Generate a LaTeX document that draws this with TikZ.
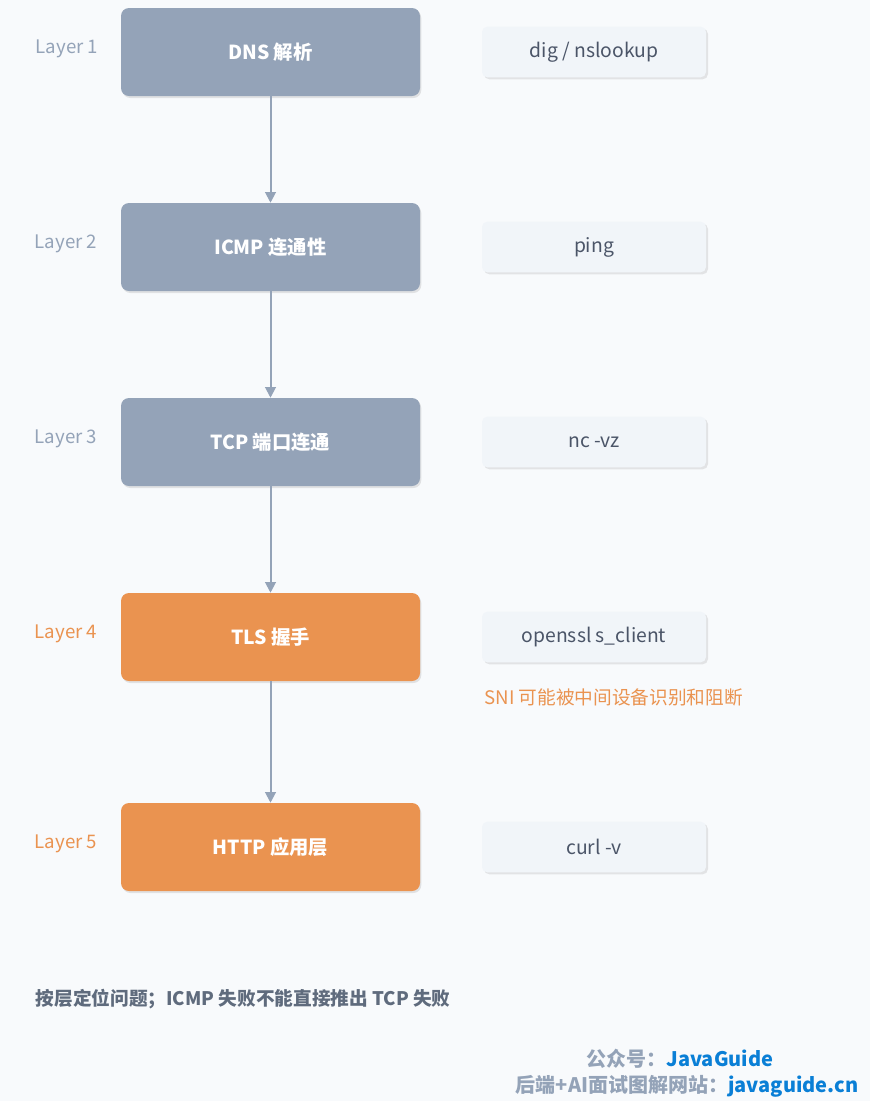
\documentclass[tikz,border=0pt]{standalone}
\usepackage{fontspec}
\setmainfont{Noto Sans CJK SC}
\usetikzlibrary{shadows,arrows.meta}
\definecolor{bg}{HTML}{F8FAFC}
\definecolor{gbox}{HTML}{94A3B8}
\definecolor{obox}{HTML}{EA9350}
\definecolor{tbox}{HTML}{F1F5F9}
\definecolor{ttext}{HTML}{4B5568}
\definecolor{btext}{HTML}{5F6B7D}
\definecolor{blu}{HTML}{0A7FD6}
\begin{document}
\begin{tikzpicture}[x=0.75pt,y=-0.75pt,
 main/.style={rounded corners=6pt,minimum width=224.25pt,minimum height=66pt,text=white,font=\fontsize{14.5}{16}\selectfont\bfseries,drop shadow={shadow xshift=1pt,shadow yshift=-1.5pt,opacity=0.2}},
 gray/.style={main,fill=gbox},
 orange/.style={main,fill=obox},
 tool/.style={rounded corners=4pt,fill=tbox,minimum width=168pt,minimum height=38pt,text=ttext,font=\fontsize{14.5}{16}\selectfont,drop shadow={shadow xshift=1.5pt,shadow yshift=-1.5pt,opacity=0.18}},
 lay/.style={font=\fontsize{14}{16}\selectfont\itshape,text=gbox},
 arr/.style={draw=gbox,line width=1.5pt,-{Triangle[length=8pt,width=8pt]}}]
\fill[bg] (0,0) rectangle (870,1101);
\useasboundingbox (0,0) rectangle (870,1101);
\node[gray] (n1) at (270.5,52) {DNS 解析};
\node[gray] (n2) at (270.5,247) {ICMP 连通性};
\node[gray] (n3) at (270.5,442) {TCP 端口连通};
\node[orange] (n4) at (270.5,637) {TLS 握手};
\node[orange] (n5) at (270.5,847) {HTTP 应用层};
\node[tool] (t1) at (594,52) {dig / nslookup};
\node[tool] (t2) at (594,247) {ping};
\node[tool] (t3) at (594,442) {nc -vz};
\node[tool] (t4) at (594,637) {openssl s\_client};
\node[tool] (t5) at (594,847) {curl -v};
\node[lay] (l1) at (67,49) {Layer 1};
\node[lay] (l2) at (66,244) {Layer 2};
\node[lay] (l3) at (66,439) {Layer 3};
\node[lay,text=obox] (l4) at (66,634) {Layer 4};
\node[lay,text=obox] (l5) at (66,844) {Layer 5};
\draw[arr] (n1) -- (n2);
\draw[arr] (n2) -- (n3);
\draw[arr] (n3) -- (n4);
\draw[arr] (n4) -- (n5);
\node[anchor=west,text=obox,font=\fontsize{14}{16}\selectfont\itshape] (sni) at (480,697) {SNI 可能被中间设备识别和阻断};
\node[anchor=west,text=btext,font=\fontsize{14}{16}\selectfont\bfseries] (note) at (31,999) {按层定位问题；ICMP 失败不能直接推出 TCP 失败};
\node[anchor=east,text=gbox,font=\fontsize{15}{17}\selectfont\bfseries] (w1) at (778,1059) {公众号：\textcolor{blu}{JavaGuide}};
\node[anchor=east,text=gbox,font=\fontsize{15}{17}\selectfont\bfseries] (w2) at (863,1086) {后端+AI面试图解网站：\textcolor{blu}{javaguide.cn}};
\end{tikzpicture}
\end{document}
